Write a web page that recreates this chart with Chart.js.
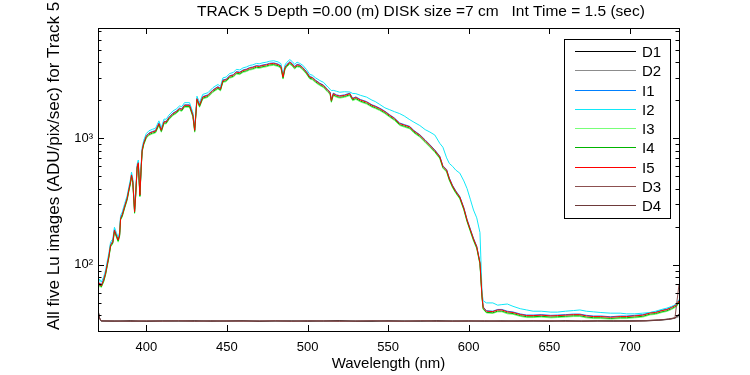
<!DOCTYPE html>
<html>
<head>
<meta charset="utf-8">
<title>TRACK 5 Lu spectra</title>
<script src="https://cdn.jsdelivr.net/npm/chart.js@4.4.1/dist/chart.umd.min.js"></script>
<style>
  html, body { margin: 0; padding: 0; background: #fff; }
  canvas { display: block; }
</style>
</head>
<body>
<canvas id="chart" width="750" height="375"></canvas>
<script>
const chartTitle = 'TRACK 5 Depth =0.00 (m) DISK size =7 cm   Int Time = 1.5 (sec)';
const xTitle = 'Wavelength (nm)';
const yTitle = 'All five Lu images (ADU/pix/sec) for Track 5';

const xTicks = [400, 450, 500, 550, 600, 650, 700];
const yTicks = [40, 50, 60, 70, 80, 90, 100, 200, 300, 400, 500, 600, 700, 800, 900,
  1000, 2000, 3000, 4000, 5000, 6000, 7000];
const yTickLabels = { 100: '10²', 1000: '10³' };

// wavelengths shared by the five "I" images
const wavelengths = [
  370, 371, 372, 373.5, 374.7, 375.7, 376.7, 377.8, 379.2, 380.2,
  381.3, 382.5, 383.4, 384, 385, 386.6, 388.1, 389.1, 390.2, 390.8,
  391.6, 392.7, 393.3, 394.3, 395, 396, 396.8, 397.4, 398.4, 400,
  401.6, 403.7, 405.7, 407.8, 409.3, 411, 412.3, 414, 416.5, 418.5,
  420.6, 422, 423.7, 426.8, 428.9, 430, 431.4, 433, 435, 438.2,
  441.3, 444.4, 446, 447.5, 449.5, 451.7, 454, 455.8, 458, 460,
  462, 464.1, 466, 468.3, 470, 472.4, 474.5, 476.5, 479, 481.7,
  483.5, 484.8, 486, 486.9, 489, 490.5, 492, 493.5, 495.2, 497,
  499.3, 501.4, 503, 505, 507.6, 510, 512.6, 514, 514.8, 516,
  518, 520, 523, 526.2, 528, 530, 533, 536.6, 540, 542,
  544.8, 548, 551, 554, 557.2, 560, 563.5, 566, 569.7, 573,
  575.9, 579, 582.1, 584, 586.3, 588, 590, 592, 594.5, 597,
  599, 601, 603, 605, 607, 608.3, 609, 611, 615, 618,
  620.6, 624, 627.5, 632, 636, 640, 645, 651, 655, 660,
  665, 669, 673, 677.5, 682, 688, 694, 698, 703, 708,
  712.6, 716, 720, 723, 726, 729, 730.5
];

const i1 = [
  67, 72, 69, 77, 87, 101, 117, 145, 154, 190,
  174, 158, 174, 236, 250, 294, 338, 394, 460, 518,
  460, 266, 348, 600, 646, 360, 600, 813, 927, 1047,
  1100, 1131, 1151, 1319, 1167, 1363, 1357, 1464, 1580, 1636,
  1730, 1707, 1838, 1838, 1532, 1167, 2070, 1838, 2136, 2202,
  2414, 2560, 2474, 2888, 2929, 3121, 3181, 3363, 3333, 3464,
  3515, 3616, 3656, 3752, 3727, 3797, 3838, 3909, 3939, 3858,
  3737, 3070, 3636, 3797, 4020, 3888, 3686, 3838, 3797, 3636,
  3363, 3070, 3030, 2878, 2727, 2626, 2414, 2323, 2010, 2272,
  2202, 2171, 2202, 2272, 2070, 2121, 2020, 1949, 1838, 1798,
  1730, 1636, 1532, 1444, 1319, 1283, 1240, 1151, 1066, 970,
  890, 808, 720, 606, 566, 485, 424, 384, 346, 283,
  228, 192, 162, 140, 105, 57, 46.5, 43.4, 43, 44.4,
  44.4, 43, 42.4, 40.9, 40.1, 40.1, 40.4, 39.9, 40.1, 40.4,
  40.8, 40.8, 39.9, 39.4, 39.4, 38.9, 39.4, 39.4, 39.9, 40.4,
  42, 42.4, 43.9, 44.7, 46.5, 48.9, 53
];

const i2 = [
  70, 77, 73, 80, 91, 106, 123, 151, 160, 198,
  181, 165, 181, 245, 260, 306, 352, 410, 478, 540,
  478, 276, 362, 624, 672, 374, 624, 846, 964, 1090,
  1145, 1176, 1198, 1372, 1214, 1418, 1411, 1523, 1643, 1700,
  1800, 1775, 1911, 1911, 1593, 1214, 2150, 1911, 2220, 2290,
  2510, 2660, 2570, 3000, 3045, 3245, 3310, 3500, 3465, 3600,
  3655, 3760, 3800, 3900, 3875, 3950, 3990, 4060, 4095, 4010,
  3885, 3190, 3780, 3950, 4180, 4040, 3830, 3990, 3900, 3780,
  3500, 3190, 3150, 3000, 2860, 2760, 2540, 2440, 2380, 2390,
  2350, 2310, 2330, 2320, 2260, 2250, 2180, 2115, 2000, 1950,
  1850, 1740, 1680, 1620, 1565, 1500, 1400, 1340, 1260, 1170,
  1120, 1060, 910, 850, 700, 632, 600, 560, 530, 460,
  400, 330, 271, 235, 180, 60, 52, 50, 50, 48,
  48.5, 49, 47, 45, 44, 43, 43, 42.3, 42.3, 43,
  43.5, 44, 43, 42.5, 42, 41.5, 41.5, 41, 41, 41.5,
  42, 43, 44.5, 45.5, 47, 49, 53
];

const i3 = [
  64, 69, 66, 73, 83, 96, 112, 138, 147, 181,
  166, 151, 166, 225, 238, 281, 323, 376, 439, 495,
  439, 254, 333, 573, 618, 344, 573, 777, 886, 1001,
  1052, 1081, 1100, 1260, 1116, 1303, 1297, 1399, 1510, 1563,
  1653, 1631, 1756, 1756, 1464, 1116, 1978, 1756, 2041, 2104,
  2306, 2446, 2364, 2760, 2798, 2982, 3040, 3213, 3184, 3310,
  3358, 3455, 3493, 3585, 3561, 3628, 3667, 3734, 3763, 3686,
  3570, 2934, 3474, 3628, 3840, 3715, 3522, 3667, 3628, 3474,
  3213, 2934, 2895, 2750, 2605, 2509, 2306, 2220, 1920, 2171,
  2104, 2075, 2104, 2171, 1978, 2026, 1930, 1862, 1756, 1718,
  1653, 1563, 1464, 1380, 1260, 1225, 1185, 1100, 1019, 926,
  850, 772, 688, 579, 540, 463, 405, 367, 331, 270,
  218, 183, 154, 134, 100, 54, 44.5, 41.6, 41.3, 42.5,
  42.5, 41, 40.6, 39.1, 38.3, 38.3, 38.6, 38.1, 38.3, 38.6,
  39, 39, 38.1, 37.6, 37.6, 37.2, 37.6, 37.6, 38.1, 38.6,
  40.2, 40.6, 42, 42.8, 44.4, 46.7, 50
];

const i4 = [
  65, 71, 67, 74, 84, 98, 114, 140, 149, 184,
  169, 154, 169, 228, 242, 285, 328, 382, 446, 503,
  446, 258, 338, 582, 627, 349, 582, 789, 900, 1016,
  1068, 1098, 1117, 1280, 1133, 1323, 1317, 1421, 1534, 1588,
  1679, 1656, 1784, 1784, 1487, 1133, 2009, 1784, 2073, 2136,
  2342, 2484, 2401, 2803, 2842, 3028, 3087, 3263, 3234, 3361,
  3410, 3508, 3548, 3641, 3616, 3685, 3724, 3793, 3822, 3744,
  3626, 2979, 3528, 3685, 3900, 3773, 3577, 3724, 3685, 3528,
  3263, 2979, 2940, 2793, 2646, 2548, 2342, 2254, 1950, 2205,
  2136, 2107, 2136, 2205, 2009, 2058, 1960, 1891, 1784, 1744,
  1679, 1588, 1487, 1401, 1280, 1245, 1203, 1117, 1035, 941,
  863, 784, 699, 588, 549, 470, 412, 372, 336, 274,
  221, 186, 157, 136, 102, 55, 45, 42.1, 41.8, 43.1,
  43.1, 41.7, 41.2, 39.7, 38.9, 38.9, 39.2, 38.7, 38.9, 39.2,
  39.6, 39.6, 38.7, 38.2, 38.2, 37.7, 38.2, 38.2, 38.7, 39.2,
  40.8, 41.2, 42.6, 43.4, 45.1, 47.4, 51
];

const i5 = [
  66, 72, 68, 76, 86, 100, 116, 143, 152, 188,
  172, 157, 172, 233, 247, 291, 335, 390, 455, 513,
  455, 263, 345, 594, 640, 356, 594, 805, 918, 1037,
  1090, 1120, 1140, 1306, 1156, 1350, 1344, 1450, 1565, 1620,
  1713, 1690, 1820, 1820, 1517, 1156, 2050, 1820, 2115, 2180,
  2390, 2535, 2450, 2860, 2900, 3090, 3150, 3330, 3300, 3430,
  3480, 3580, 3620, 3715, 3690, 3760, 3800, 3870, 3900, 3820,
  3700, 3040, 3600, 3760, 3980, 3850, 3650, 3800, 3760, 3600,
  3330, 3040, 3000, 2850, 2700, 2600, 2390, 2300, 1990, 2250,
  2180, 2150, 2180, 2250, 2050, 2100, 2000, 1930, 1820, 1780,
  1713, 1620, 1517, 1430, 1306, 1270, 1228, 1140, 1056, 960,
  881, 800, 713, 600, 560, 480, 420, 380, 343, 280,
  226, 190, 160, 139, 104, 56, 46, 43, 42.7, 44,
  44, 42.5, 42, 40.5, 39.7, 39.7, 40, 39.5, 39.7, 40,
  40.4, 40.4, 39.5, 39, 39, 38.5, 39, 39, 39.5, 40,
  41.6, 42, 43.5, 44.3, 46, 48.4, 52
];

// dark frames
const darkWavelengths = [
  370, 371, 372, 380, 390, 400, 410, 420, 430, 440,
  450, 460, 470, 480, 490, 500, 510, 520, 530, 540,
  550, 560, 570, 580, 590, 600, 610, 620, 630, 640,
  650, 660, 670, 680, 690, 700, 710, 718, 724, 728, 730.5
];
const d1 = [
  44, 38, 36, 35.8, 36.2, 35.7, 36, 35.9, 36.3, 35.8,
  36, 36.2, 35.7, 35.9, 36.1, 35.8, 36, 36.3, 35.9, 35.7,
  36.1, 36, 35.8, 36.2, 35.9, 36, 35.7, 36.1, 35.9, 36,
  35.8, 36.2, 35.9, 36, 35.8, 36.1, 36.3, 36.6, 37.2, 38, 40
];
const d2 = [
  43, 37.5, 35.9, 36.1, 35.7, 36, 36.2, 35.8, 35.9, 36.2,
  35.8, 36, 36.1, 35.7, 36, 36.2, 35.8, 35.9, 36.2, 36,
  35.8, 36.1, 36, 35.7, 36.1, 35.8, 36, 35.9, 36.2, 35.8,
  36, 35.9, 36.1, 35.8, 36, 35.9, 36.1, 36.5, 37, 37.8, 39
];
const d3 = [
  43.5, 37.8, 36.1, 35.9, 36, 36.1, 35.8, 36.2, 36, 35.9,
  36.1, 35.8, 36, 36.2, 35.8, 36, 36.1, 35.7, 36, 36.2,
  35.9, 35.8, 36.2, 36, 35.8, 36.1, 35.9, 36, 35.8, 36.1,
  36.2, 35.8, 36, 36.1, 36, 35.8, 36.2, 36.7, 37.3, 38.2, 70
];
const d4 = [
  42.5, 37.6, 36, 36, 35.8, 35.9, 36.1, 36, 35.8, 36.1,
  35.9, 36.1, 35.9, 36, 35.9, 36.1, 35.9, 36.1, 35.8, 36,
  36, 35.9, 36, 35.9, 36, 35.9, 36.1, 35.8, 36, 36,
  35.9, 36, 35.8, 36, 36.1, 36, 36, 36.5, 37.1, 37.9, 41
];

const seriesLabels = ['D1', 'D2', 'I1', 'I2', 'I3', 'I4', 'I5', 'D3', 'D4'];
const seriesColors = ['#000000', '#8c8c8c', '#0080ff', '#10e8f8', '#78ff78',
  '#00b400', '#ff0000', '#8c5050', '#6e3a3a'];
const seriesValues = [d1, d2, i1, i2, i3, i4, i5, d3, d4];
const seriesWavelengths = [darkWavelengths, darkWavelengths, wavelengths, wavelengths,
  wavelengths, wavelengths, wavelengths, darkWavelengths, darkWavelengths];

const FONT = '"Liberation Sans", Arial, Helvetica, sans-serif';
Chart.defaults.font.family = FONT;
Chart.defaults.color = '#000';

// matlab-like box with inward ticks on all four sides
const framePlugin = {
	id: 'frame',
	afterDatasetsDraw(chart) {
		const { ctx, chartArea: a, scales } = chart;
		const x = scales.x;
		const y = scales.y;
		ctx.save();
		ctx.strokeStyle = '#000';
		ctx.lineWidth = 1;
		ctx.beginPath();
		x.ticks.forEach((t) => {
			const px = Math.round(x.getPixelForValue(t.value)) + 0.5;
			ctx.moveTo(px, a.bottom);
			ctx.lineTo(px, a.bottom - 6);
			ctx.moveTo(px, a.top);
			ctx.lineTo(px, a.top + 6);
		});
		y.ticks.forEach((t) => {
			const py = Math.round(y.getPixelForValue(t.value)) + 0.5;
			const len = t.label ? 6 : 3.5;
			ctx.moveTo(a.left, py);
			ctx.lineTo(a.left + len, py);
			ctx.moveTo(a.right, py);
			ctx.lineTo(a.right - len, py);
		});
		ctx.stroke();
		ctx.strokeRect(a.left + 0.5, a.top + 0.5, a.right - a.left, a.bottom - a.top);
		ctx.restore();
	},
};

// boxed legend in the upper right corner of the axes
const boxLegendPlugin = {
	id: 'boxLegend',
	afterDatasetsDraw(chart) {
		const { ctx, chartArea: a } = chart;
		const datasets = chart.data.datasets;
		const boxRight = a.right - 9;
		const boxLeft = boxRight - 106;
		const boxTop = a.top + 11;
		const rowH = 19.25;
		const boxH = 179;
		ctx.save();
		ctx.fillStyle = '#fff';
		ctx.fillRect(boxLeft, boxTop, boxRight - boxLeft, boxH);
		ctx.strokeStyle = '#000';
		ctx.lineWidth = 1;
		ctx.strokeRect(boxLeft + 0.5, boxTop + 0.5, boxRight - boxLeft, boxH);
		ctx.font = '15px ' + FONT;
		ctx.textBaseline = 'middle';
		ctx.textAlign = 'left';
		datasets.forEach((ds, i) => {
			const yy = Math.round(boxTop + 12 + i * rowH) + 0.5;
			ctx.beginPath();
			ctx.strokeStyle = ds.borderColor;
			ctx.lineWidth = 1;
			ctx.moveTo(boxLeft + 11, yy);
			ctx.lineTo(boxLeft + 72, yy);
			ctx.stroke();
			ctx.fillStyle = '#000';
			ctx.fillText(ds.label, boxLeft + 78, yy + 1);
		});
		ctx.restore();
	},
};

// title and y axis label (the y label runs past the top, like the original)
const textPlugin = {
	id: 'texts',
	afterDraw(chart) {
		const { ctx, chartArea: a } = chart;
		ctx.save();
		ctx.fillStyle = '#000';
		ctx.font = '15.5px ' + FONT;
		ctx.textAlign = 'center';
		ctx.textBaseline = 'middle';
		ctx.fillText(chartTitle, 421, 12);

		ctx.translate(59, a.bottom - 1);
		ctx.rotate(-Math.PI / 2);
		ctx.font = '17px ' + FONT;
		ctx.textAlign = 'left';
		ctx.textBaseline = 'alphabetic';
		ctx.fillText(yTitle, 0, 0);
		ctx.restore();
	},
};

const ctx = document.getElementById('chart').getContext('2d');

const chart = new Chart(ctx, {
	type: 'line',
	data: {
		datasets: seriesLabels.map((label, i) => ({
			label,
			data: seriesWavelengths[i].map((w, j) => ({ x: w, y: seriesValues[i][j] })),
			borderColor: seriesColors[i],
			backgroundColor: seriesColors[i],
			borderWidth: 1,
			pointRadius: 0,
			fill: false,
			tension: 0,
			order: seriesLabels.length - i,
		})),
	},
	options: {
		responsive: false,
		animation: false,
		devicePixelRatio: 1,
		layout: { padding: { left: 0, right: 71, top: 28, bottom: 0 } },
		plugins: {
			legend: { display: false },
			title: { display: false },
			tooltip: { enabled: false },
		},
		scales: {
			x: {
				type: 'linear',
				min: 370,
				max: 730.5,
				afterBuildTicks: (axis) => {
					axis.ticks = xTicks.map((value) => ({ value }));
				},
				afterFit: (axis) => {
					axis.height = 44;
				},
				grid: { display: false, drawTicks: false },
				border: { display: false },
				ticks: {
					autoSkip: false,
					maxRotation: 0,
					padding: 9,
					font: { size: 13 },
					callback: (v) => String(v),
				},
				title: {
					display: true,
					text: xTitle,
					font: { size: 15 },
					padding: { top: 0, bottom: 2 },
				},
			},
			y: {
				type: 'logarithmic',
				min: 30,
				max: 7430,
				afterBuildTicks: (axis) => {
					axis.ticks = yTicks.map((value) => ({ value }));
				},
				afterFit: (axis) => {
					axis.width = 98;
				},
				grid: { display: false, drawTicks: false },
				border: { display: false },
				ticks: {
					autoSkip: false,
					padding: 5,
					font: { size: 13 },
					callback: (v) => yTickLabels[v] || '',
				},
			},
		},
	},
	plugins: [framePlugin, boxLegendPlugin, textPlugin],
});
</script>
</body>
</html>
